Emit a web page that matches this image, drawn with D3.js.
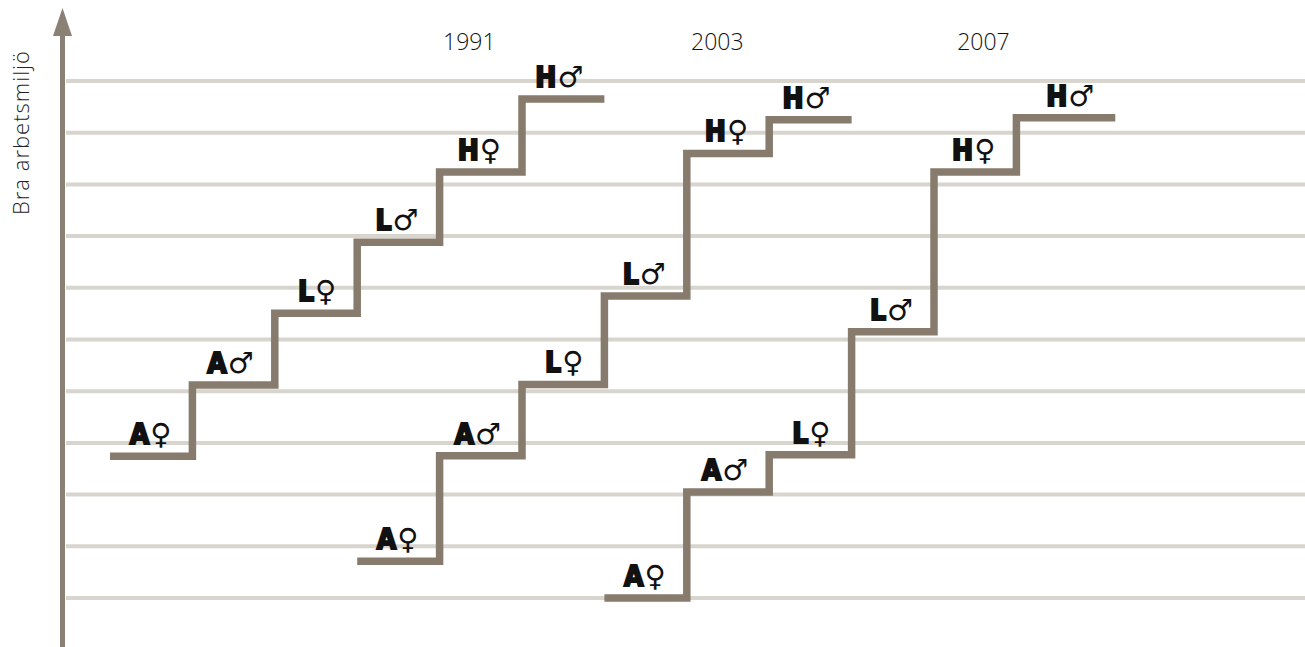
<!DOCTYPE html>
<html><head><meta charset="utf-8">
<script src="https://cdn.jsdelivr.net/npm/d3@7"></script>
<style>body{margin:0;background:#fff;} svg{display:block}</style>
</head><body><svg id="c" width="1305" height="647"></svg>
<script>
// ---- data ----
const years = ["1991", "2003", "2007"];
const groups = ["A", "A", "L", "L", "H", "H"];
const sexes = ["♀", "♂", "♀", "♂", "♀", "♂"];
const values1991 = [2.74, 4.12, 5.51, 6.88, 8.24, 9.65];
const values2003 = [0.71, 2.75, 4.13, 5.84, 8.60, 9.25];
const values2007 = [0.00, 2.05, 2.77, 5.15, 8.24, 9.29];
const startStep = [0, 3, 6];
const lastStepLength = [1, 1, 1.2];
const gridTicks = [0, 1, 2, 3, 4, 5, 6, 7, 8, 9, 10];
const yAxisTitle = "Bra arbetsmiljö";

// ---- layout ----
const seriesValues = [values1991, values2003, values2007];
const yearLabelOffset = [4.36, 4.37, 4.6];
const svg = d3.select("#c");
const y = d3.scaleLinear().domain([0, 10]).range([598, 81]);
const x = d3.scaleLinear().domain([0, 12]).range([110, 1098.8]);
const axisX = 62.5;
const stepColor = "#867b6d";
const axisColor = "#8a8073";

// gridlines
svg.append("g").selectAll("line").data(gridTicks).join("line")
  .attr("x1", 66).attr("x2", 1305)
  .attr("y1", d => y(d)).attr("y2", d => y(d))
  .attr("stroke", "#d8d4ce").attr("stroke-width", 4);

// vertical axis with arrow
svg.append("line").attr("x1", axisX).attr("x2", axisX).attr("y1", 647).attr("y2", 30)
  .attr("stroke", axisColor).attr("stroke-width", 5);
svg.append("path").attr("d", `M${axisX},8 L${axisX - 9.5},36 L${axisX + 9.5},36 Z`)
  .attr("fill", axisColor);

svg.append("text").attr("transform", `translate(29,132.5) rotate(-90)`)
  .attr("text-anchor", "middle")
  .attr("font-family", "'Open Sans', sans-serif").attr("font-weight", 300)
  .attr("font-size", 22).attr("letter-spacing", 1).attr("fill", "#222").text(yAxisTitle);

// staircases
const line = d3.line().x(d => x(d[0])).y(d => y(d[1])).curve(d3.curveStepAfter);
seriesValues.forEach((vals, s) => {
  const k0 = startStep[s];
  const pts = vals.map((v, i) => [k0 + i, v]);
  pts.push([k0 + vals.length - 1 + lastStepLength[s], vals[vals.length - 1]]);
  svg.append("path").attr("d", line(pts)).attr("fill", "none")
    .attr("stroke", stepColor).attr("stroke-width", 7.5)
    .attr("stroke-linejoin", "miter").attr("stroke-linecap", "butt");

  const g = svg.append("g");
  vals.forEach((v, i) => {
    const xe = i < vals.length - 1 ? x(k0 + i + 1) : x(k0 + i + lastStepLength[s]);
    const t = g.append("text").attr("x", xe - 21).attr("y", y(v) - 12)
      .attr("text-anchor", "end").attr("fill", "#111");
    t.append("tspan").text(groups[i])
      .attr("font-family", "'Liberation Sans Narrow', 'DejaVu Sans Condensed', sans-serif")
      .attr("font-weight", "bold").attr("font-size", 28)
      .attr("stroke", "#111").attr("stroke-width", 2).attr("paint-order", "stroke");
    t.append("tspan").text(sexes[i])
      .attr("font-family", "'DejaVu Sans', sans-serif").attr("font-weight", "normal")
      .attr("font-size", 29).attr("dx", 1);
  });

  svg.append("text").attr("x", x(k0 + yearLabelOffset[s])).attr("y", 50)
    .attr("text-anchor", "middle").attr("font-family", "'Open Sans', sans-serif")
    .attr("font-weight", 300).attr("font-size", 23).attr("fill", "#111").text(years[s]);
});
</script></body></html>
